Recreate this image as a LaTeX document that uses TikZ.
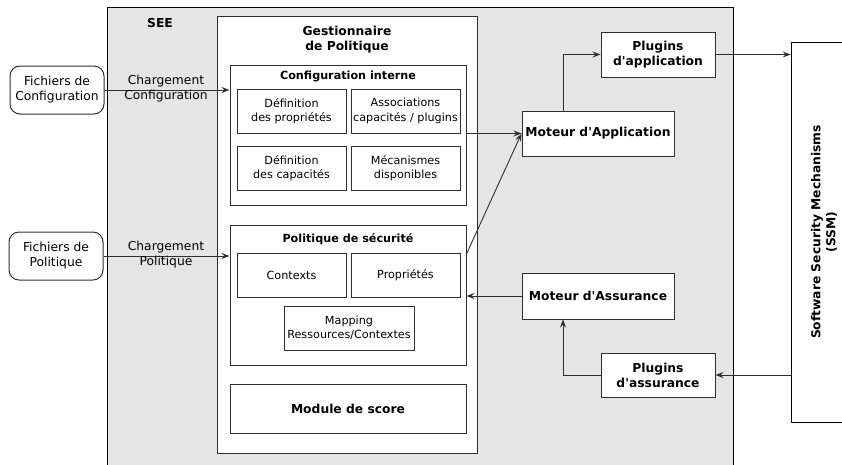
\documentclass[tikz,border=0pt]{standalone}
\usepackage{fontspec}
\setmainfont{DejaVu Sans}
\usetikzlibrary{arrows.meta}
\definecolor{seegray}{HTML}{E5E5E5}
\definecolor{edge}{HTML}{2E2E2E}
\newcommand{\bigtxt}{\fontsize{12.3pt}{15pt}\selectfont}
\newcommand{\smalltxt}{\fontsize{11.2pt}{14.5pt}\selectfont}
\newcommand{\q}{\textquotesingle}
\tikzset{
  box/.style={draw=edge, line width=1pt, fill=white, inner sep=0pt, align=center},
  inbox/.style={box, minimum width=109pt, minimum height=44pt, font=\smalltxt},
  engine/.style={box, font=\bigtxt\bfseries},
  filebox/.style={box, rounded corners=10pt, minimum width=94pt, minimum height=48pt, font=\bigtxt},
  outer/.style={draw=black, line width=0.8pt, inner sep=0pt},
  title/.style={inner sep=0pt, align=center},
  arr/.style={draw=edge, line width=0.9pt, -{Stealth[length=8pt,width=6pt,inset=3pt]}},
  edgelabel/.style={inner sep=0pt, align=center, font=\bigtxt}
}
\begin{document}
\begin{tikzpicture}[x=1pt,y=-1pt]
\useasboundingbox (0,0) rectangle (842,464);

% environment container
\node[outer, fill=seegray, minimum width=626pt, minimum height=470pt] (see) at (420,242) {};
\node[title, font=\bigtxt\bfseries] (seelabel) at (160,23) {SEE};

% external software security mechanisms
\node[outer, fill=white, minimum width=80pt, minimum height=380pt] (ssm) at (831,232) {};
\node[title, rotate=90, font=\bigtxt\bfseries] (ssmlabel) at (824,232) {Software Security Mechanisms\\(SSM)};

% policy manager
\node[box, minimum width=260pt, minimum height=437pt] (gest) at (347,234.5) {};
\node[title, font=\bigtxt\bfseries] (gesttitle) at (347,40) {Gestionnaire\\de Politique};

% internal configuration
\node[box, minimum width=236pt, minimum height=140pt] (cint) at (348,135) {};
\node[title, font=\smalltxt\bfseries] (cinttitle) at (348,76) {Configuration interne};
\node[inbox] (defprop) at (291.5,111) {Définition\\des propriétés};
\node[inbox] (assoc) at (405.5,111) {Associations\\capacités / plugins};
\node[inbox] (defcap) at (291.5,168) {Définition\\des capacités};
\node[inbox] (meca) at (405.5,168) {Mécanismes\\disponibles};

% security policy
\node[box, minimum width=236pt, minimum height=140pt] (pol) at (348,295) {};
\node[title, font=\smalltxt\bfseries] (poltitle) at (348,239) {Politique de sécurité};
\node[inbox] (ctx) at (291.5,275) {Contexts};
\node[inbox] (props) at (405.5,275) {Propriétés};
\node[inbox, minimum width=130pt] (mapping) at (349,328) {Mapping\\Ressources/Contextes};

% score module
\node[box, minimum width=236pt, minimum height=49pt, font=\bigtxt\bfseries] (score) at (348,408.5) {Module de score};

% input files
\node[filebox] (fconf) at (57,90) {Fichiers de\\Configuration};
\node[filebox] (fpol) at (56,256) {Fichiers de\\Politique};

% engines and plugins
\node[engine, minimum width=152pt, minimum height=45pt] (mapp) at (598,133.5) {Moteur d\q Application};
\node[engine, minimum width=114pt, minimum height=45pt] (papp) at (658,54.5) {Plugins\\d\q application};
\node[engine, minimum width=152pt, minimum height=46pt] (mass) at (598,296) {Moteur d\q Assurance};
\node[engine, minimum width=114pt, minimum height=44pt] (pass) at (658,375) {Plugins\\d\q assurance};

% loading arrows
\draw[arr] (fconf.east) -- (fconf.east -| cint.west);
\node[edgelabel] (lconf) at (166,88.5) {Chargement\\Configuration};
\draw[arr] (fpol.east) -- (fpol.east -| pol.west);
\node[edgelabel] (lpol) at (166,254.5) {Chargement\\Politique};

% application path
\draw[arr] (mapp.west -| cint.east) -- (mapp.west);
\draw[arr] ([yshift=41pt]pol.east) -- (mapp.west);
\draw[arr] ([xshift=-35pt]mapp.north) |- (papp.west);
\draw[arr] (papp.east) -- (papp.east -| ssm.west);

% assurance path
\draw[arr] (pass.east -| ssm.west) -- (pass.east);
\draw[arr] (pass.west) -| ([xshift=-35pt]mass.south);
\draw[arr] (mass.west) -- (mass.west -| pol.east);
\end{tikzpicture}
\end{document}
